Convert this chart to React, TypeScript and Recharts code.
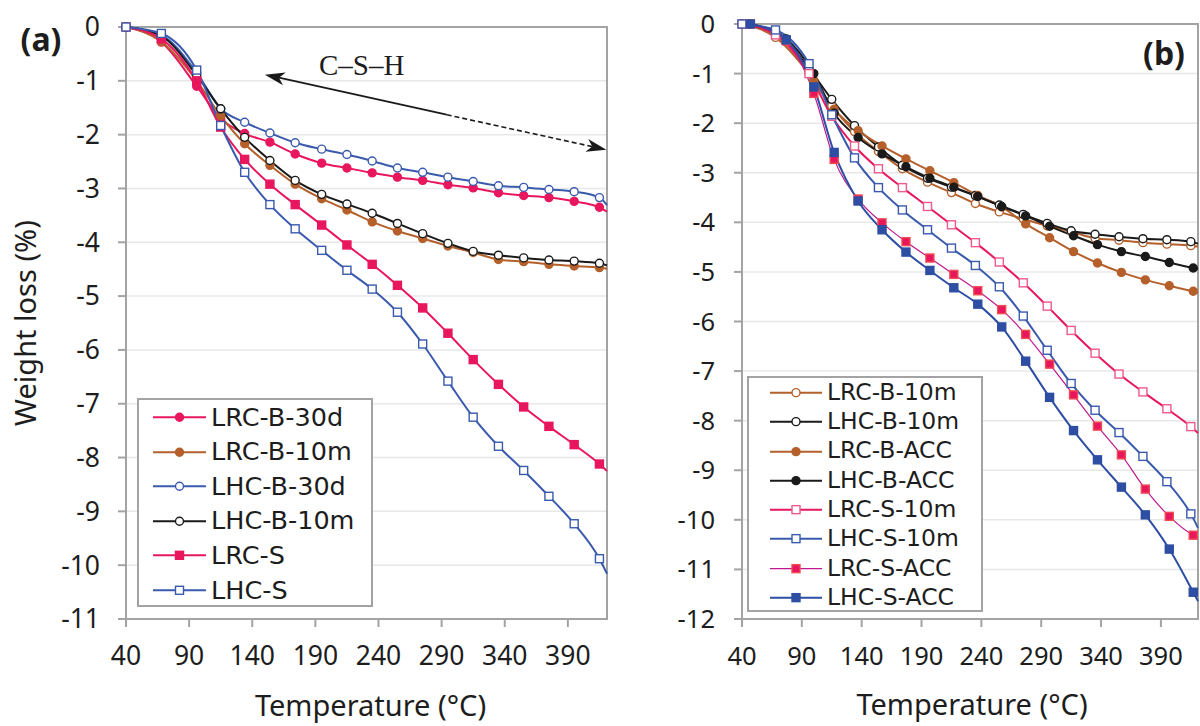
import React from 'react';
import {
  LineChart,
  Line,
  XAxis,
  YAxis,
  CartesianGrid,
  ReferenceArea,
  ReferenceLine,
  ReferenceDot,
  Legend,
} from 'recharts';

const FONT = "'Noto Sans', 'DejaVu Sans', sans-serif";
const LEGEND_FONT = "'DejaVu Sans', 'Noto Sans', sans-serif";
const SERIF = "'Liberation Serif', 'DejaVu Serif', serif";
const TEXT = '#1d1d1d';
const AXIS = '#A3A3A3';
const GRID = '#E8E8E8';

const PINK = '#E8175D';
const PINK_LIGHT = '#EE5A8A';
const BROWN = '#B5602B';
const BLUE = '#3A5AAE';
const BLACK = '#1A1A1A';
const MAGENTA = '#C0188E';
const DARKBLUE = '#2D4EA2';

// ---- axes ----
const xTicks = [40, 90, 140, 190, 240, 290, 340, 390];
const xDomain = [40, 421];
const yTicksA = [0, -1, -2, -3, -4, -5, -6, -7, -8, -9, -10, -11];
const yTicksB = [0, -1, -2, -3, -4, -5, -6, -7, -8, -9, -10, -11, -12];

// ---- temperatures (°C); last value = right edge of the plot ----
const temp10m = [40, 68, 96, 115, 134, 154, 174, 195, 215, 235, 255, 275, 295, 315, 335, 355, 375, 395, 415, 421];
const tempAcc = [47, 77, 100, 117, 137, 157, 177, 197, 217, 237, 257, 277, 297, 317, 337, 357, 377, 397, 417, 421];

// ---- weight loss (%) ----
const lrcB30d = [0, -0.28, -1.1, -1.7, -1.98, -2.14, -2.36, -2.53, -2.62, -2.71, -2.79, -2.85, -2.93, -2.99, -3.08, -3.13, -3.17, -3.24, -3.35, -3.43];
const lrcB10m = [0, -0.27, -1.0, -1.65, -2.17, -2.57, -2.92, -3.19, -3.4, -3.62, -3.79, -3.93, -4.07, -4.19, -4.32, -4.36, -4.41, -4.44, -4.47, -4.49];
const lhcB30d = [0, -0.15, -0.85, -1.52, -1.77, -1.97, -2.15, -2.27, -2.37, -2.49, -2.62, -2.7, -2.79, -2.87, -2.95, -2.98, -3.02, -3.06, -3.17, -3.31];
const lhcB10m = [0, -0.17, -0.9, -1.52, -2.05, -2.48, -2.85, -3.11, -3.29, -3.46, -3.65, -3.84, -4.02, -4.17, -4.24, -4.29, -4.33, -4.35, -4.39, -4.43];
const lrcS10m = [0, -0.22, -1.0, -1.86, -2.46, -2.92, -3.3, -3.68, -4.05, -4.41, -4.8, -5.22, -5.69, -6.18, -6.64, -7.06, -7.42, -7.76, -8.12, -8.25];
const lhcS10m = [0, -0.12, -0.8, -1.83, -2.7, -3.3, -3.75, -4.15, -4.52, -4.87, -5.3, -5.89, -6.58, -7.25, -7.79, -8.24, -8.72, -9.23, -9.88, -10.16];
const lrcBAcc = [0, -0.32, -1.15, -1.72, -2.15, -2.46, -2.72, -2.96, -3.2, -3.46, -3.69, -4.03, -4.31, -4.59, -4.82, -5.01, -5.16, -5.28, -5.39, -5.41];
const lhcBAcc = [0, -0.3, -1.0, -1.8, -2.29, -2.62, -2.88, -3.11, -3.29, -3.48, -3.68, -3.87, -4.08, -4.27, -4.45, -4.59, -4.69, -4.81, -4.92, -4.94];
const lrcSAcc = [0, -0.34, -1.4, -2.73, -3.53, -4.01, -4.39, -4.72, -5.05, -5.38, -5.76, -6.26, -6.86, -7.48, -8.11, -8.69, -9.38, -9.93, -10.31, -10.36];
const lhcSAcc = [0, -0.32, -1.27, -2.59, -3.57, -4.15, -4.6, -4.97, -5.32, -5.65, -6.11, -6.8, -7.53, -8.2, -8.79, -9.34, -9.9, -10.59, -11.46, -11.64];

const seriesA = [
  { name: 'LRC-B-30d', temps: temp10m, values: lrcB30d, line: PINK, width: 2, shape: 'circle', fill: PINK, stroke: PINK },
  { name: 'LRC-B-10m', temps: temp10m, values: lrcB10m, line: BROWN, width: 2, shape: 'circle', fill: BROWN, stroke: BROWN },
  { name: 'LHC-B-30d', temps: temp10m, values: lhcB30d, line: BLUE, width: 2, shape: 'circle', fill: '#fff', stroke: BLUE },
  { name: 'LHC-B-10m', temps: temp10m, values: lhcB10m, line: BLACK, width: 2, shape: 'circle', fill: '#fff', stroke: BLACK },
  { name: 'LRC-S', temps: temp10m, values: lrcS10m, line: PINK, width: 2, shape: 'square', fill: PINK, stroke: PINK },
  { name: 'LHC-S', temps: temp10m, values: lhcS10m, line: BLUE, width: 2, shape: 'square', fill: '#fff', stroke: BLUE },
];

const seriesB = [
  { name: 'LRC-B-10m', temps: temp10m, values: lrcB10m, line: BROWN, width: 2, shape: 'circle', fill: '#fff', stroke: BROWN },
  { name: 'LHC-B-10m', temps: temp10m, values: lhcB10m, line: BLACK, width: 2, shape: 'circle', fill: '#fff', stroke: BLACK },
  { name: 'LRC-B-ACC', temps: tempAcc, values: lrcBAcc, line: BROWN, width: 2, shape: 'circle', fill: BROWN, stroke: BROWN },
  { name: 'LHC-B-ACC', temps: tempAcc, values: lhcBAcc, line: BLACK, width: 2, shape: 'circle', fill: BLACK, stroke: BLACK },
  { name: 'LRC-S-10m', temps: temp10m, values: lrcS10m, line: PINK, width: 2, shape: 'square', fill: '#fff', stroke: PINK_LIGHT },
  { name: 'LHC-S-10m', temps: temp10m, values: lhcS10m, line: BLUE, width: 2, shape: 'square', fill: '#fff', stroke: BLUE },
  { name: 'LRC-S-ACC', temps: tempAcc, values: lrcSAcc, line: MAGENTA, width: 1.2, shape: 'square', fill: PINK, stroke: '#EF4B52' },
  { name: 'LHC-S-ACC', temps: tempAcc, values: lhcSAcc, line: DARKBLUE, width: 2, shape: 'square', fill: DARKBLUE, stroke: DARKBLUE },
];

const toData = (temps: number[], values: number[]) => temps.map((t, i) => ({ t, v: values[i] }));

const Marker = ({ cx, cy, s }: any) =>
  s.shape === 'circle' ? (
    <circle cx={cx} cy={cy} r={4} fill={s.fill} stroke={s.stroke} strokeWidth={1.4} />
  ) : (
    <rect x={cx - 4} y={cy - 4} width={8} height={8} fill={s.fill} stroke={s.stroke} strokeWidth={1.4} />
  );

const makeDot = (s: any) => (p: any) => {
  const key = `${s.name}-${p.index}`;
  if (p.index === s.temps.length - 1 || p.cx == null || p.cy == null) return <g key={key} />;
  return <Marker key={key} cx={p.cx} cy={p.cy} s={s} />;
};

const renderLines = (series: any[]) =>
  series.map((s) => (
    <Line
      key={s.name}
      data={toData(s.temps, s.values)}
      dataKey="v"
      name={s.name}
      type="monotone"
      stroke={s.line}
      strokeWidth={s.width}
      dot={makeDot(s)}
      activeDot={false}
      isAnimationActive={false}
    />
  ));

const LegendBox = ({ series, width, height, rowH, lineX1, lineX2, textX, fontSize, padTop }: any) => (
  <div
    style={{
      width,
      height,
      boxSizing: 'border-box',
      border: `2px solid ${AXIS}`,
      background: '#fff',
      paddingTop: padTop,
    }}
  >
    {series.map((s: any) => (
      <div key={s.name} style={{ height: rowH, display: 'flex', alignItems: 'center' }}>
        <svg width={textX} height={rowH} style={{ flex: 'none', display: 'block' }}>
          <line x1={lineX1} x2={lineX2} y1={rowH / 2} y2={rowH / 2} stroke={s.line} strokeWidth={s.width} />
          <Marker cx={(lineX1 + lineX2) / 2} cy={rowH / 2} s={s} />
        </svg>
        <span style={{ fontFamily: LEGEND_FONT, fontSize, color: TEXT, lineHeight: 1, whiteSpace: 'nowrap' }}>{s.name}</span>
      </div>
    ))}
  </div>
);

const XTitle = (props: any) => {
  const { viewBox, fontSize, baseline, shift } = props;
  const cx = viewBox.x + viewBox.width / 2 + shift;
  return (
    <text x={cx} y={baseline} textAnchor="middle" fontFamily={FONT} fontSize={fontSize} fill={TEXT}>
      Temperature (°C)
    </text>
  );
};

const YTitle = (props: any) => {
  const { viewBox } = props;
  const x = 36;
  const y = viewBox.y + viewBox.height / 2;
  return (
    <text x={x} y={y} transform={`rotate(-90, ${x}, ${y})`} textAnchor="middle" fontFamily={FONT} fontSize={29} fill={TEXT}>
      Weight loss (%)
    </text>
  );
};

const headPath = (tipX: number, tipY: number, fromX: number, fromY: number, len = 20, half = 6.5) => {
  const dx = tipX - fromX;
  const dy = tipY - fromY;
  const L = Math.hypot(dx, dy) || 1;
  const ux = dx / L;
  const uy = dy / L;
  const px = -uy;
  const py = ux;
  const bx = tipX - ux * len;
  const by = tipY - uy * len;
  const nx = tipX - ux * len * 0.72;
  const ny = tipY - uy * len * 0.72;
  return {
    d: `M${tipX},${tipY} L${bx + px * half},${by + py * half} L${nx},${ny} L${bx - px * half},${by - py * half} Z`,
    nx,
    ny,
  };
};

const SolidArrow = (p: any) => {
  const { x1, y1, x2, y2 } = p;
  const h = headPath(x1, y1, x2, y2);
  return (
    <g>
      <line x1={h.nx} y1={h.ny} x2={x2} y2={y2} stroke={BLACK} strokeWidth={1.8} />
      <path d={h.d} fill={BLACK} />
    </g>
  );
};

const DashedArrow = (p: any) => {
  const { x1, y1, x2, y2 } = p;
  const h = headPath(x2, y2, x1, y1);
  return (
    <g>
      <line x1={x1} y1={y1} x2={h.nx} y2={h.ny} stroke={BLACK} strokeWidth={1.6} strokeDasharray="5 3" />
      <path d={h.d} fill={BLACK} />
    </g>
  );
};

const axisCommon = {
  axisLine: { stroke: AXIS, strokeWidth: 2 },
  tickLine: { stroke: AXIS, strokeWidth: 2 },
  tickSize: 8,
};

export default function App() {
  return (
    <div
      style={{
        position: 'absolute',
        left: 0,
        top: 0,
        width: 1200,
        height: 726,
        background: '#fff',
        overflow: 'hidden',
      }}
    >
      {/* Panel (a) */}
      <div style={{ position: 'absolute', left: 0, top: 0 }}>
        <LineChart width={620} height={726} margin={{ top: 27, right: 13, bottom: 0, left: 0 }}>
          <CartesianGrid vertical={false} stroke={GRID} strokeWidth={1.5} />
          <XAxis
            dataKey="t"
            type="number"
            domain={xDomain}
            ticks={xTicks}
            interval={0}
            height={107}
            tickMargin={19}
            tick={{ fontSize: 26.5, fill: TEXT, fontFamily: FONT }}
            label={<XTitle fontSize={29} baseline={716} shift={4} />}
            {...axisCommon}
          />
          <YAxis
            type="number"
            domain={[-11, 0]}
            ticks={yTicksA}
            interval={0}
            width={126}
            tickMargin={18}
            tick={{ fontSize: 26.5, fill: TEXT, fontFamily: FONT }}
            label={<YTitle />}
            {...axisCommon}
          />
          <ReferenceArea x1={40} x2={421} y1={-11} y2={0} fill="none" fillOpacity={0} stroke={AXIS} strokeWidth={2} ifOverflow="visible" />
          {renderLines(seriesA)}
          <ReferenceLine segment={[{ x: 150, y: -0.885 }, { x: 294, y: -1.63 }]} ifOverflow="visible" shape={SolidArrow} />
          <ReferenceLine segment={[{ x: 294, y: -1.63 }, { x: 420.5, y: -2.28 }]} ifOverflow="visible" shape={DashedArrow} />
          <ReferenceDot
            x={226.7}
            y={-0.7}
            r={1}
            ifOverflow="visible"
            shape={(p: any) => (
              <text x={p.cx} y={p.cy} dy={10} textAnchor="middle" fontFamily={SERIF} fontSize={29} fill={TEXT}>
                C–S–H
              </text>
            )}
          />
          <Legend
            layout="horizontal"
            verticalAlign="middle"
            align="center"
            wrapperStyle={{ left: 137, top: 398, width: 236, height: 209 }}
            content={() => (
              <LegendBox series={seriesA} width={236} height={209} rowH={34.6} lineX1={14} lineX2={67} textX={72} fontSize={25.5} padTop={0} />
            )}
          />
        </LineChart>
      </div>

      {/* Panel (b) */}
      <div style={{ position: 'absolute', left: 620, top: 0 }}>
        <LineChart width={580} height={726} margin={{ top: 24, right: 2, bottom: 0, left: 0 }}>
          <CartesianGrid vertical={false} stroke={GRID} strokeWidth={1.5} />
          <XAxis
            dataKey="t"
            type="number"
            domain={xDomain}
            ticks={xTicks}
            interval={0}
            height={107}
            tickMargin={20}
            tick={{ fontSize: 25.5, fill: TEXT, fontFamily: FONT }}
            label={<XTitle fontSize={29} baseline={715} shift={2} />}
            {...axisCommon}
          />
          <YAxis
            type="number"
            domain={[-12, 0]}
            ticks={yTicksB}
            interval={0}
            width={122}
            tickMargin={19}
            tick={{ fontSize: 25.5, fill: TEXT, fontFamily: FONT }}
            {...axisCommon}
          />
          <ReferenceArea x1={40} x2={421} y1={-12} y2={0} fill="none" fillOpacity={0} stroke={AXIS} strokeWidth={2} ifOverflow="visible" />
          {renderLines(seriesB)}
          <Legend
            layout="horizontal"
            verticalAlign="middle"
            align="center"
            wrapperStyle={{ left: 127, top: 376, width: 236, height: 236 }}
            content={() => (
              <LegendBox series={seriesB} width={236} height={236} rowH={29.3} lineX1={21} lineX2={73} textX={78} fontSize={23.5} padTop={0} />
            )}
          />
        </LineChart>
      </div>

      {/* panel letters */}
      <svg width={1200} height={726} style={{ position: 'absolute', left: 0, top: 0, pointerEvents: 'none' }}>
        <text x={41} y={51} textAnchor="middle" fontFamily={FONT} fontWeight="bold" fontSize={32} fill={TEXT}>
          (a)
        </text>
        <text x={1164} y={65} textAnchor="middle" fontFamily={FONT} fontWeight="bold" fontSize={32} fill={TEXT}>
          (b)
        </text>
      </svg>
    </div>
  );
}
